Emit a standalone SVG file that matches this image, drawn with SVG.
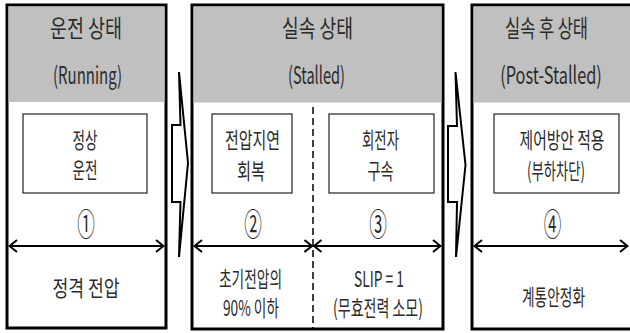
<svg xmlns="http://www.w3.org/2000/svg" width="630" height="333" viewBox="0 0 630 333">
<defs>
<style>
.panel{fill:#fff;stroke:#000;stroke-width:3}
.hdr{fill:#c0c0c0}
.box{fill:#fff;stroke:#222;stroke-width:1.2}
.t{font-family:"Malgun Gothic","Noto Sans CJK KR","Noto Sans",sans-serif;fill:#2b2b2b;text-anchor:middle}
.ti{font-size:24px}
.tb{font-size:22px}
.num{font-family:"Noto Sans CJK KR","DejaVu Sans",sans-serif;fill:#2b2b2b;text-anchor:middle;font-size:32px}
.dim{stroke:#000;stroke-width:2.2;fill:none;marker-start:url(#ch);marker-end:url(#ch)}
.blk{fill:#fff;stroke:#000;stroke-width:2;stroke-linejoin:miter}
.dash{stroke:#000;stroke-width:1.5;stroke-dasharray:7 4}
</style>
<marker id="ch" viewBox="-1 -7 10 14" markerWidth="10" markerHeight="14" refX="8" refY="0" orient="auto-start-reverse" markerUnits="userSpaceOnUse">
<path d="M0,-6 L7.5,0 L0,6" fill="none" stroke="#000" stroke-width="2"/>
</marker>
</defs>

<g id="running">
<rect class="panel" x="7" y="5" width="159" height="323"/>
<rect class="hdr" x="8.5" y="6.5" width="156" height="95.5"/>
<text class="t ti" x="86" y="37" textLength="72" lengthAdjust="spacingAndGlyphs">운전 상태</text>
<text class="t ti" x="87.5" y="84" textLength="69" lengthAdjust="spacingAndGlyphs">(Running)</text>
<text class="t tb" x="86" y="296" textLength="67" lengthAdjust="spacingAndGlyphs">정격 전압</text>
<text class="num" transform="translate(86,222) scale(0.55,1)" dominant-baseline="central">①</text>
</g>
<g id="normal-op">
<rect class="box" x="23" y="114" width="124" height="79"/>
<text class="t tb" x="85" y="148" textLength="25" lengthAdjust="spacingAndGlyphs">정상</text>
<text class="t tb" x="85" y="178" textLength="25" lengthAdjust="spacingAndGlyphs">운전</text>
</g>

<g id="stalled">
<rect class="panel" x="192" y="5" width="251" height="324"/>
<rect class="hdr" x="193.5" y="6.5" width="248" height="96"/>
<text class="t ti" x="317.5" y="37" textLength="71" lengthAdjust="spacingAndGlyphs">실속 상태</text>
<text class="t ti" x="316.5" y="84" textLength="57" lengthAdjust="spacingAndGlyphs">(Stalled)</text>
<line class="dash" x1="313" y1="107" x2="313" y2="328"/>
<text class="num" transform="translate(253,222) scale(0.55,1)" dominant-baseline="central">②</text>
<text class="num" transform="translate(378,222) scale(0.55,1)" dominant-baseline="central">③</text>
<text class="t tb" x="250.5" y="287" textLength="63" lengthAdjust="spacingAndGlyphs">초기전압의</text>
<text class="t tb" x="251" y="316" textLength="56" lengthAdjust="spacingAndGlyphs">90% 이하</text>
<text class="t tb" x="379" y="287" textLength="50" lengthAdjust="spacingAndGlyphs">SLIP = 1</text>
<text class="t tb" x="378" y="316" textLength="90" lengthAdjust="spacingAndGlyphs">(무효전력 소모)</text>
</g>
<g id="voltage-recovery">
<rect class="box" x="212" y="114" width="80" height="79"/>
<text class="t tb" x="252.5" y="148" textLength="55" lengthAdjust="spacingAndGlyphs">전압지연</text>
<text class="t tb" x="251" y="179" textLength="28" lengthAdjust="spacingAndGlyphs">회복</text>
</g>
<g id="rotor-lock">
<rect class="box" x="329" y="114" width="105" height="79"/>
<text class="t tb" x="380.5" y="148" textLength="37" lengthAdjust="spacingAndGlyphs">회전자</text>
<text class="t tb" x="380.5" y="179" textLength="26" lengthAdjust="spacingAndGlyphs">구속</text>
</g>

<g id="post-stalled">
<rect class="panel" x="472" y="5" width="161" height="324"/>
<rect class="hdr" x="473.5" y="6.5" width="158" height="96"/>
<text class="t ti" x="546.5" y="37" textLength="83" lengthAdjust="spacingAndGlyphs">실속 후 상태</text>
<text class="t ti" transform="translate(551,84) scale(0.77,1)" x="0" y="0" textLength="132" lengthAdjust="spacingAndGlyphs">(Post-Stalled)</text>
<text class="num" transform="translate(552.5,222) scale(0.55,1)" dominant-baseline="central">④</text>
<text class="t tb" x="553.5" y="305" textLength="63" lengthAdjust="spacingAndGlyphs">계통안정화</text>
</g>
<g id="control">
<rect class="box" x="494" y="114" width="125" height="79"/>
<text class="t tb" transform="translate(562,148) scale(0.62,1)" x="0" y="0" textLength="137" lengthAdjust="spacingAndGlyphs">제어방안 적용</text>
<text class="t tb" x="556" y="179" textLength="58" lengthAdjust="spacingAndGlyphs">(부하차단)</text>
</g>

<g id="connectors">
<polygon class="blk" points="179,72 188,163 179,257 180.5,202 172,202 172,125 180.5,125"/>
<polygon class="blk" points="455.5,72 465.5,165 456,257 457,202 448,202 448,126 457,126"/>
<line class="dim" x1="9" y1="246" x2="164" y2="246"/>
<line class="dim" x1="194" y1="246" x2="312.5" y2="246"/>
<line class="dim" x1="313.5" y1="246" x2="441" y2="246"/>
<line class="dim" x1="474" y1="246" x2="628" y2="246"/>
</g>
</svg>
